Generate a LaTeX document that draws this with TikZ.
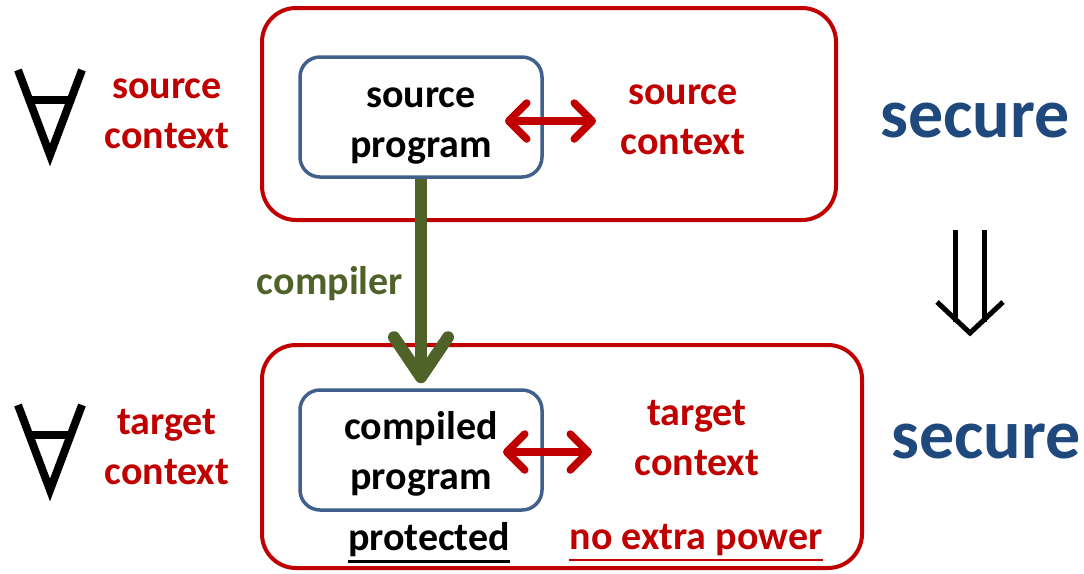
\documentclass[tikz,border=0pt]{standalone}
\usepackage{fontspec}
\setmainfont{Carlito}
\usetikzlibrary{arrows.meta}
\definecolor{cred}{HTML}{C00000}
\definecolor{cblue}{HTML}{41618C}
\definecolor{ctext}{HTML}{1F497D}
\definecolor{cgreen}{HTML}{4F6228}
\tikzset{
  redbox/.style={draw=cred, line width=4pt, rounded corners=34pt, inner sep=0pt},
  progbox/.style={draw=cblue, line width=3.5pt, rounded corners=20pt, minimum width=242pt, minimum height=120pt, inner sep=0pt},
  redtxt/.style={align=center, text=cred, inner sep=0pt, font=\fontsize{40}{50}\selectfont\bfseries},
  blktxt/.style={align=center, text=black, inner sep=0pt, font=\fontsize{40}{50}\selectfont\bfseries},
  securetxt/.style={text=ctext, inner sep=0pt, font=\fontsize{70}{84}\selectfont\bfseries},
  redarrow/.style={draw=cred, line width=7.5pt, {Straight Barb[length=18pt, width=36pt, line cap=round, line join=round]}-{Straight Barb[length=18pt, width=36pt, line cap=round, line join=round]}},
  greenarrow/.style={draw=cgreen, line width=12pt, -{Straight Barb[length=40pt, width=54pt, line cap=round, line join=round]}},
  forall/.style={draw=black, line width=8pt, line join=miter},
  implies/.style={draw=black, line width=5pt},
  uline/.style={line width=2.5pt}
}
\begin{document}
\begin{tikzpicture}[x=1pt,y=-1pt]
\useasboundingbox (0,0) rectangle (1084,573);
% outer boxes
\node[redbox, minimum width=574pt, minimum height=212pt] (topbox) at (549,114) {};
\node[redbox, minimum width=600pt, minimum height=223pt] (botbox) at (562,456.5) {};
% program boxes
\node[progbox] (src) at (421,117) {};
\node[progbox] (cmp) at (421,450) {};
\node[blktxt] (srct) at ([yshift=-9pt]src.center) {source\\program};
\node[blktxt] (cmpt) at ([yshift=-4pt]cmp.center) {compiled\\program};
% texts
\node[redtxt] (lsc) at (167,114) {source\\context};
\node[redtxt] (rsc) at (683,120) {source\\context};
\node[redtxt] (ltc) at (167,447) {target\\context};
\node[redtxt] (rtc) at (697,438) {target\\context};
\node[text=cgreen, inner sep=0pt, font=\fontsize{40}{50}\selectfont\bfseries] (comp) at (330,284) {compiler};
\node[securetxt] (sec1) at (975,120) {secure};
\node[securetxt] (sec2) at (986,441) {secure};
\node[blktxt] (prot) at (429,540) {protected};
\node[redtxt] (nep) at (696,540) {no extra power};
\draw[uline, black] (prot.south west) ++(0,4) -- ([yshift=-4pt]prot.south east);
\draw[uline, cred] (nep.south west) ++(0,4) -- ([yshift=-4pt]nep.south east);
% arrows
\coordinate (sl) at (505,121);
\coordinate (sr) at (596,121);
\draw[redarrow] (sl) -- (sr);
\coordinate (cl) at (503,452);
\coordinate (cr) at (592,452);
\draw[redarrow] (cl) -- (cr);
\draw[greenarrow, shorten >=5pt] (src.south) -- (cmp.north);
% forall symbols
\draw[forall] (18,70) -- (50,155) -- (82,70);
\draw[forall] (27,100) -- (73,100);
\draw[forall] (18,405) -- (50,490) -- (82,405);
\draw[forall] (27,435) -- (73,435);
% implies arrow
\coordinate (ia) at (955,230);
\coordinate (ib) at (955,322);
\coordinate (ic) at (984,230);
\coordinate (id) at (984,322);
\coordinate (il) at (937,302);
\coordinate (im) at (970,333);
\coordinate (ir) at (1003,302);
\draw[implies] (ia) -- (ib);
\draw[implies] (ic) -- (id);
\draw[implies] (il) -- (im) -- (ir);
\end{tikzpicture}
\end{document}
